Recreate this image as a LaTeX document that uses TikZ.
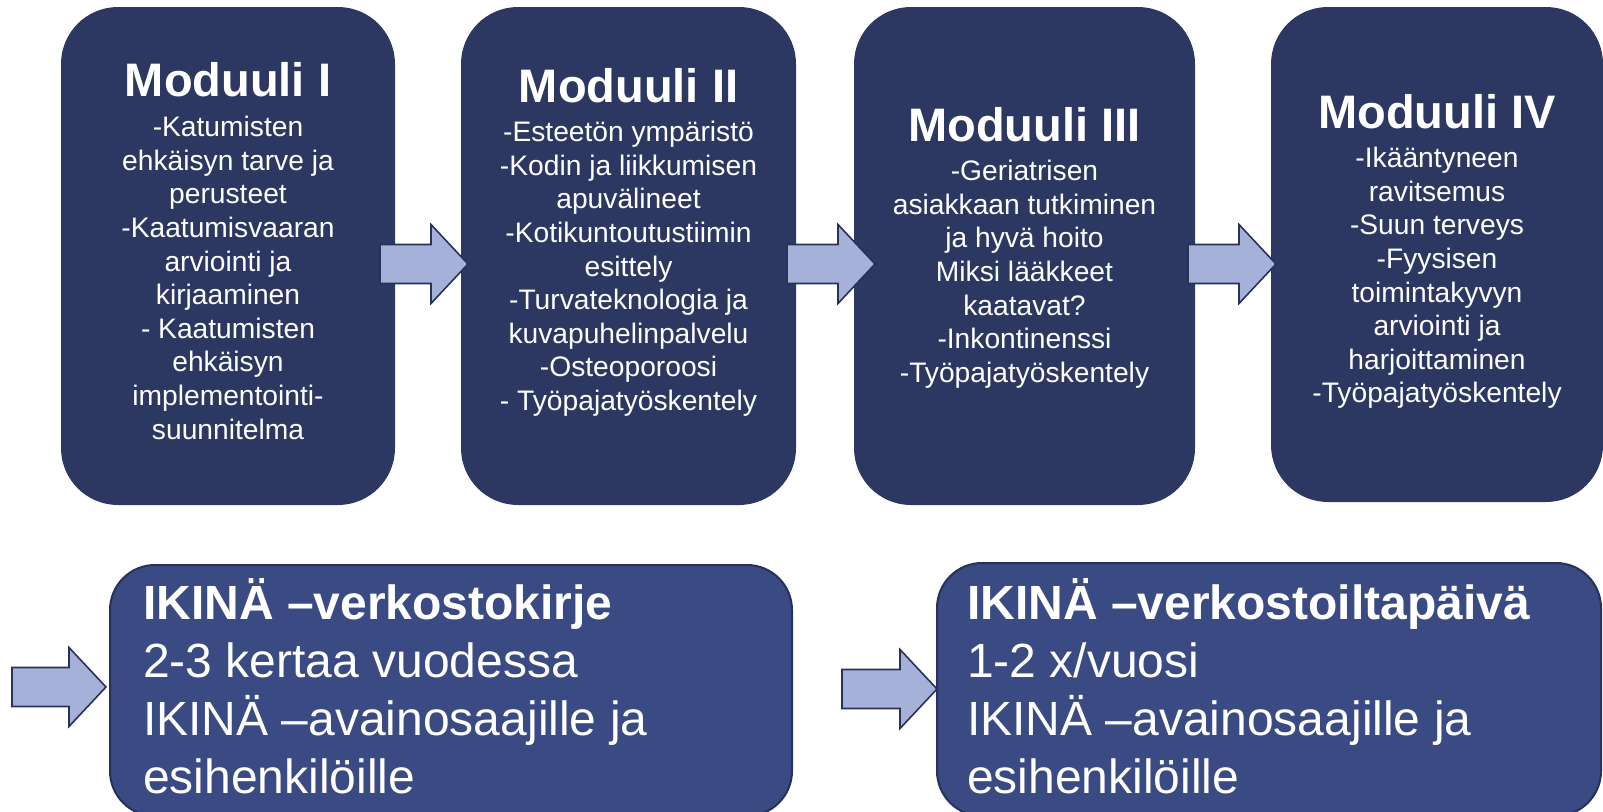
\documentclass[tikz,border=0pt]{standalone}
\usepackage{fontspec}
\setmainfont{Liberation Sans}
\definecolor{topfill}{RGB}{44,56,98}
\definecolor{botfill}{RGB}{58,74,130}
\definecolor{botline}{RGB}{38,50,90}
\definecolor{arrfill}{RGB}{165,177,217}
\definecolor{arrline}{RGB}{40,50,88}
\tikzset{
 topbox/.style={rectangle, fill=topfill, rounded corners=57pt, inner sep=0pt},
 botbox/.style={rectangle, fill=botfill, draw=botline, line width=2pt, rounded corners=45pt, inner sep=0pt},
 modtitle/.style={text=white, inner sep=0pt, font=\fontsize{47}{56}\selectfont\bfseries},
 modbody/.style={text=white, inner sep=0pt, align=center, anchor=north, font=\fontsize{28.2}{33.6}\selectfont},
 bottext/.style={text=white, inner sep=0pt, align=left, anchor=north west, font=\fontsize{48}{58}\selectfont},
 arrowfill/.style={fill=arrfill, draw=arrline, line width=1.6pt, line join=miter},
 pics/barrow/.style={code={\draw[arrowfill] (0,-19.5) -- ({#1-37},-19.5) -- ({#1-37},-39.5) -- (#1,0) -- ({#1-37},39.5) -- ({#1-37},19.5) -- (0,19.5) -- cycle;}}
}
\begin{document}
\begin{tikzpicture}[x=1pt,y=-1pt]
\useasboundingbox (0,0) rectangle (1603,811);
\clip (0,0) rectangle (1603,811);
% top module boxes
\node[topbox, minimum width=334pt, minimum height=498pt] (m1) at (228,256) {};
\node[topbox, minimum width=335pt, minimum height=498pt] (m2) at (628.5,256) {};
\node[topbox, minimum width=341pt, minimum height=498pt] (m3) at (1024.5,256) {};
\node[topbox, minimum width=332pt, minimum height=495pt] (m4) at (1437,254.5) {};
% titles
\node[modtitle] (t1) at (228,80) {Moduuli I};
\node[modtitle] (t2) at (628.5,86) {Moduuli II};
\node[modtitle] (t3) at (1024.5,125) {Moduuli III};
\node[modtitle] (t4) at (1437,112) {Moduuli IV};
% bodies
\node[modbody] (b1) at (228,116) {-Katumisten\\ehkäisyn tarve ja\\perusteet\\-Kaatumisvaaran\\arviointi ja\\kirjaaminen\\- Kaatumisten\\ehkäisyn\\implementointi-\\suunnitelma};
\node[modbody] (b2) at (628.5,121) {-Esteetön ympäristö\\-Kodin ja liikkumisen\\apuvälineet\\-Kotikuntoutustiimin\\esittely\\-Turvateknologia ja\\kuvapuhelinpalvelu\\-Osteoporoosi\\- Työpajatyöskentely};
\node[modbody] (b3) at (1024.5,160) {-Geriatrisen\\asiakkaan tutkiminen\\ja hyvä hoito\\Miksi lääkkeet\\kaatavat?\\-Inkontinenssi\\-Työpajatyöskentely};
\node[modbody] (b4) at (1437,147) {-Ikääntyneen\\ravitsemus\\-Suun terveys\\-Fyysisen\\toimintakyvyn\\arviointi ja\\harjoittaminen\\-Työpajatyöskentely};
% bottom boxes
\node[botbox, minimum width=682pt, minimum height=251pt] (n1) at (451,690.5) {};
\node[botbox, minimum width=664pt, minimum height=253pt] (n2) at (1269,689.5) {};
\node[bottext] (nt1) at (143,578) {\textbf{IKINÄ –verkostokirje}\\2-3 kertaa vuodessa\\IKINÄ –avainosaajille ja\\esihenkilöille};
\node[bottext] (nt2) at (967,578) {\textbf{IKINÄ –verkostoiltapäivä}\\1-2 x/vuosi\\IKINÄ –avainosaajille ja\\esihenkilöille};
% block arrows
\pic at (380,264) {barrow=88};
\pic at (787,264) {barrow=88};
\pic at (1188,264) {barrow=88};
\pic at (12,687) {barrow=94};
\pic at (842,689) {barrow=95};
\end{tikzpicture}
\end{document}
